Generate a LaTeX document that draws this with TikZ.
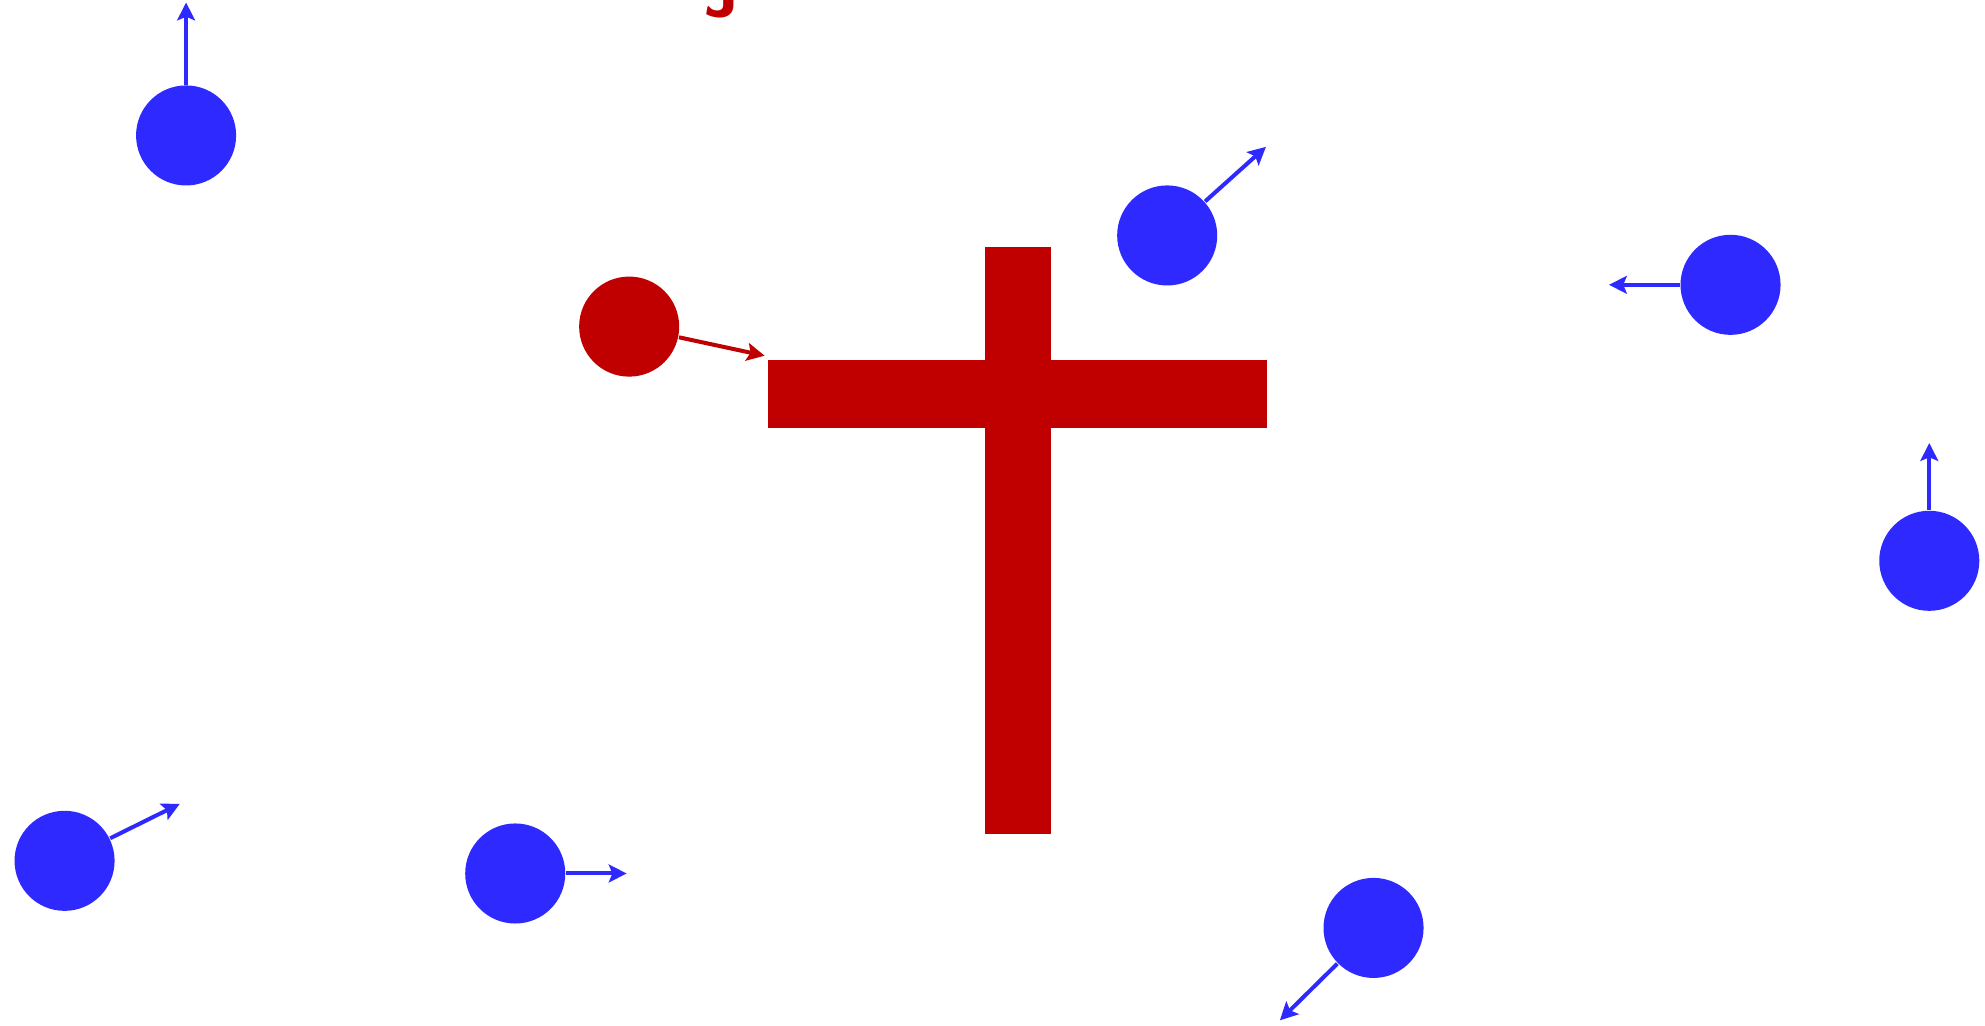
\documentclass[tikz,border=0pt]{standalone}
\usetikzlibrary{arrows.meta}
\definecolor{qblue}{RGB}{46,41,255}
\definecolor{qred}{RGB}{192,0,0}
\begin{document}
\begin{tikzpicture}[x=0.01cm,y=-0.01cm,
  charge/.style={circle,fill=#1,draw=none,minimum size=0.79cm,inner sep=0pt},
  force/.style={draw=#1,line width=0.9pt,-{Stealth[length=4pt,width=4pt,inset=0.8pt]}}]
\useasboundingbox (0,0) rectangle (1568,810);
% cross
\fill[qred] (778,195) rectangle (830,659);
\fill[qred] (607,284) rectangle (1001,338);
% charges
\node[charge=qblue] (A) at (147,107) {};
\node[charge=qblue] (B) at (922,186) {};
\node[charge=qred]  (C) at (497,258) {};
\node[charge=qblue] (D) at (1367,225) {};
\node[charge=qblue] (E) at (1524,443) {};
\node[charge=qblue] (F) at (51,680) {};
\node[charge=qblue] (G) at (407,690) {};
\node[charge=qblue] (H) at (1085,733) {};
% force tips
\coordinate (tA) at (147,2);
\coordinate (tB) at (1000,116);
\coordinate (tC) at (604,281);
\coordinate (tD) at (1271,225);
\coordinate (tE) at (1524,350);
\coordinate (tF) at (142,635);
\coordinate (tG) at (495,690);
\coordinate (tH) at (1011,806);
\draw[force=qblue] (A) -- (tA);
\draw[force=qblue] (B) -- (tB);
\draw[force=qred]  (C) -- (tC);
\draw[force=qblue] (D) -- (tD);
\draw[force=qblue] (E) -- (tE);
\draw[force=qblue] (F) -- (tF);
\draw[force=qblue] (G) -- (tG);
\draw[force=qblue] (H) -- (tH);
% cut-off label at top
\node[text=qred,font=\fontsize{16}{16}\selectfont\sffamily\bfseries,anchor=base,inner sep=0pt] (lbl) at (570,13) {J};
\end{tikzpicture}
\end{document}
